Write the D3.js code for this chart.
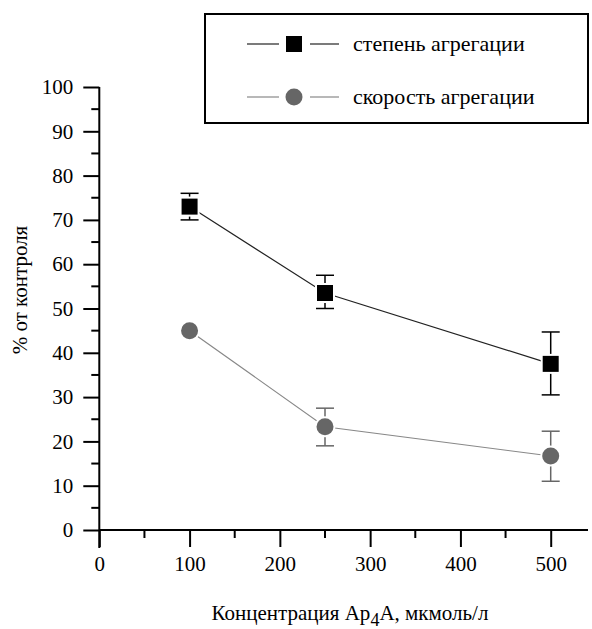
<!DOCTYPE html>
<html><head><meta charset="utf-8">
<script src="https://cdn.jsdelivr.net/npm/d3@7"></script>
</head><body style="margin:0">
<script>
const concentrations = [100, 250, 500];
const degreeValues = [73, 53.5, 37.5];
const degreeErrLow = [70, 50, 30.5];
const degreeErrHigh = [76, 57.5, 44.7];
const rateValues = [45, 23.3, 16.7];
const rateErrLow = [44.5, 19, 11];
const rateErrHigh = [45.5, 27.5, 22.3];
const xTicks = [0, 100, 200, 300, 400, 500];
const yTicks = [0, 10, 20, 30, 40, 50, 60, 70, 80, 90, 100];
const seriesNames = ["степень агрегации", "скорость агрегации"];

const W = 592, H = 629;
const svg = d3.select("body").append("svg").attr("width", W).attr("height", H).style("display", "block");
const x = d3.scaleLinear().domain([0, 500]).range([99.3, 550.7]);
const y = d3.scaleLinear().domain([0, 100]).range([530, 87]);

function txt(sel, size) {
  return sel.attr("font-family", "Liberation Serif").style("font-family", "Liberation Serif, serif", "important")
    .attr("font-size", size).attr("fill", "#000");
}

// x axis
const xAxis = d3.axisBottom(x).tickValues(xTicks).tickSize(17).tickSizeOuter(0).tickPadding(6);
const gx = svg.append("g").attr("transform", `translate(0,${y(0)})`).call(xAxis);
gx.attr("font-family", null).attr("font-size", null);
gx.select(".domain").remove();
gx.append("line").attr("x1", x(0)).attr("x2", 588).attr("y1", 0).attr("y2", 0).attr("stroke", "#000").attr("stroke-width", 2);
gx.selectAll(".tick line").attr("stroke-width", 2);
txt(gx.selectAll(".tick text"), 21).attr("dy", "0.85em");
gx.selectAll(".minor").data(d3.range(50, 550, 100)).enter().append("line")
  .attr("x1", d => x(d)).attr("x2", d => x(d)).attr("y1", 0).attr("y2", 8)
  .attr("stroke", "#000").attr("stroke-width", 2);

// y axis
const yAxis = d3.axisLeft(y).tickValues(yTicks).tickSize(16).tickSizeOuter(0).tickPadding(10);
const gy = svg.append("g").attr("transform", `translate(${x(0)},0)`).call(yAxis);
gy.attr("font-family", null).attr("font-size", null);
gy.select(".domain").remove();
gy.append("line").attr("x1", 0).attr("x2", 0).attr("y1", y(100)).attr("y2", 548).attr("stroke", "#000").attr("stroke-width", 2);
gy.selectAll(".tick line").attr("stroke-width", 2);
txt(gy.selectAll(".tick text"), 21);
gy.selectAll(".minor").data(d3.range(5, 100, 10)).enter().append("line")
  .attr("x1", -8).attr("x2", 0).attr("y1", d => y(d)).attr("y2", d => y(d))
  .attr("stroke", "#000").attr("stroke-width", 2);

// axis titles
txt(svg.append("text"), 21).attr("transform", "translate(27,290) rotate(-90)").attr("text-anchor", "middle").text("% от контроля");
const xt = txt(svg.append("text"), 21).attr("x", 350).attr("y", 620).attr("text-anchor", "middle");
xt.append("tspan").text("Концентрация Ap");
xt.append("tspan").attr("dy", 6).attr("font-size", 18).text("4");
xt.append("tspan").attr("dy", -6).text("A, мкмоль/л");

// series
function drawSeries(vals, lo, hi, color, lineColor, shape) {
  const pts = concentrations.map((c, i) => ({c, v: vals[i], lo: lo[i], hi: hi[i]}));
  svg.append("path").datum(pts)
    .attr("d", d3.line().x(d => x(d.c)).y(d => y(d.v)))
    .attr("fill", "none").attr("stroke", lineColor).attr("stroke-width", 1.2);
  const g = svg.append("g");
  pts.forEach(d => {
    g.append("line").attr("x1", x(d.c)).attr("x2", x(d.c)).attr("y1", y(d.hi)).attr("y2", y(d.lo)).attr("stroke", color).attr("stroke-width", 1.5);
    [d.hi, d.lo].forEach(e => g.append("line").attr("x1", x(d.c) - 9).attr("x2", x(d.c) + 9).attr("y1", y(e)).attr("y2", y(e)).attr("stroke", color).attr("stroke-width", 1.5));
    if (shape === "square") {
      g.append("rect").attr("x", x(d.c) - 10).attr("y", y(d.v) - 10).attr("width", 20).attr("height", 20).attr("fill", "#fff");
      g.append("rect").attr("x", x(d.c) - 8).attr("y", y(d.v) - 8).attr("width", 16).attr("height", 16).attr("fill", color);
    } else {
      g.append("circle").attr("cx", x(d.c)).attr("cy", y(d.v)).attr("r", 10.5).attr("fill", "#fff");
      g.append("circle").attr("cx", x(d.c)).attr("cy", y(d.v)).attr("r", 8.5).attr("fill", color);
    }
  });
}
drawSeries(degreeValues, degreeErrLow, degreeErrHigh, "#000", "#222", "square");
drawSeries(rateValues, rateErrLow, rateErrHigh, "#666", "#888", "circle");

// legend
const lg = svg.append("g");
lg.append("rect").attr("x", 205).attr("y", 14).attr("width", 383).attr("height", 109).attr("fill", "#fff").attr("stroke", "#000").attr("stroke-width", 2);
const rows = [{name: seriesNames[0], yy: 44, color: "#000", shape: "square"}, {name: seriesNames[1], yy: 97, color: "#666", shape: "circle"}];
rows.forEach(r => {
  const lc = r.shape === "square" ? "#222" : "#888";
  lg.append("line").attr("x1", 247).attr("x2", 279).attr("y1", r.yy).attr("y2", r.yy).attr("stroke", lc).attr("stroke-width", 1.2);
  lg.append("line").attr("x1", 310).attr("x2", 339).attr("y1", r.yy).attr("y2", r.yy).attr("stroke", lc).attr("stroke-width", 1.2);
  if (r.shape === "square") lg.append("rect").attr("x", 286).attr("y", r.yy - 8).attr("width", 16).attr("height", 16).attr("fill", r.color);
  else lg.append("circle").attr("cx", 294).attr("cy", r.yy).attr("r", 8.5).attr("fill", r.color);
  txt(lg.append("text"), 22).attr("x", 353).attr("y", r.yy + 7).text(r.name);
});
</script>
</body></html>
